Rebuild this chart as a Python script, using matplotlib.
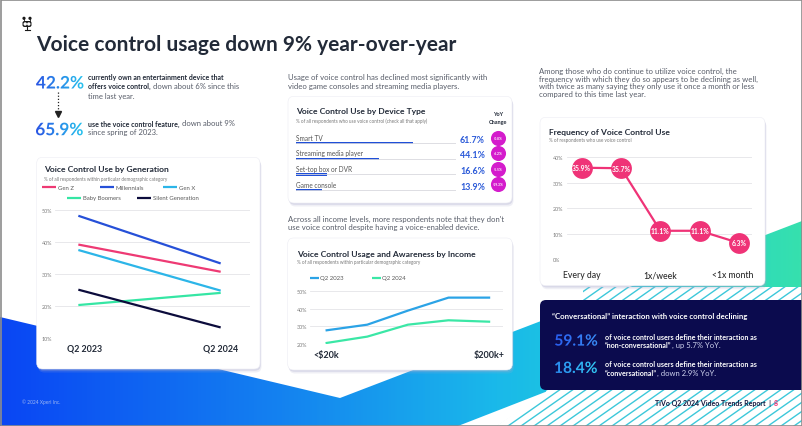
import numpy as np
import matplotlib
matplotlib.use('Agg')
import matplotlib.pyplot as plt
import matplotlib.transforms as mtransforms
from matplotlib.patches import FancyBboxPatch, Polygon, PathPatch, Circle, Rectangle
from matplotlib.colors import LinearSegmentedColormap
from matplotlib.textpath import TextPath
from matplotlib.font_manager import FontProperties

plt.rcParams['font.family'] = ['Lato', 'DejaVu Sans']

# ---- data ----
gen_periods = ['Q2 2023', 'Q2 2024']
gen_names = ['Gen Z', 'Millennials', 'Gen X', 'Baby Boomers', 'Silent Generation']
gen_z = [39.2, 30.7]
millennials = [48.2, 33.3]
gen_x = [37.5, 24.8]
baby_boomers = [20.3, 24.1]
silent_gen = [25.1, 13.3]

device_types = ['Smart TV', 'Streaming media player', 'Set-top box or DVR', 'Game console']
device_share = [61.7, 44.1, 16.6, 13.9]
device_yoy = ['-0.8%', '-6.2%', '-5.5%', '-19.3%']

income_ticks = ['<$20k', '$200k+']
income_2023 = [27.8, 31.0, 39.0, 46.4, 46.4]
income_2024 = [20.6, 24.2, 31.0, 33.5, 32.7]

freq_ticks = ['Every day', '1x/week', '<1x month']
freq_share = [35.9, 35.7, 11.1, 11.1, 6.3]

own_device = 42.2
use_voice = 65.9
non_conv = 59.1
conv = 18.4

# colours
DARK = '#222a38'
GREY = '#575c68'
PINK = '#ef3377'
C_GEN = ['#ee3a74', '#2650d8', '#2cb5e8', '#35e6a4', '#0c0c3c']
C_INC = ['#2ba3e6', '#3be7a6']

# font sizes
F_PARA = 5.6
F_CARD = 6.1
F_SUB = 3.3

W, H = 802, 427
fig = plt.figure(figsize=(W / 100, H / 100), dpi=100)
bg = fig.add_axes([0, 0, 1, 1])
bg.set_xlim(0, W)
bg.set_ylim(H, 0)
bg.set_autoscale_on(False)
bg.axis('off')
r = fig.canvas.get_renderer()


def px_axes(x0, y0, x1, y1):
    a = fig.add_axes([x0 / W, 1 - y1 / H, (x1 - x0) / W, (y1 - y0) / H])
    a.patch.set_alpha(0)
    for s in a.spines.values():
        s.set_visible(False)
    return a


def txt(x, y, s, size, color=GREY, weight='normal', ha='left', **kw):
    return bg.text(x, y, s, fontsize=size, color=color, fontweight=weight,
                   ha=ha, va='center', zorder=10, **kw)


def rich(x, y, parts):
    for s, w, c, size in parts:
        t = txt(x, y, s, size, c, w)
        x = t.get_window_extent(r).x1


def grad_text(x, y, s, size, c1, c2):
    tp = TextPath((0, 0), s, size=size * 100 / 72,
                  prop=FontProperties(family='Lato', weight='bold'))
    e = tp.get_extents()
    tr = mtransforms.Affine2D().scale(1, -1).translate(x - e.x0, y + (e.y0 + e.y1) / 2)
    patch = PathPatch(tp, transform=tr + bg.transData, fc='none', ec='none')
    bg.add_patch(patch)
    cmap = LinearSegmentedColormap.from_list('g', [c1, c2])
    im = bg.imshow(np.linspace(0, 1, 200).reshape(1, -1), cmap=cmap, aspect='auto',
                   extent=(x, x + e.width, y + e.height, y - e.height), zorder=10)
    im.set_clip_path(patch)


def card(x0, y0, x1, y1, rad=6):
    for dx, dy, a in [(1.5, 3.5, 0.18), (0.8, 1.8, 0.3)]:
        bg.add_patch(FancyBboxPatch((x0 + dx, y0 + dy), x1 - x0, y1 - y0,
                                    boxstyle=f'round,pad=0,rounding_size={rad}',
                                    fc='#a9a9cc', ec='none', alpha=a, zorder=3))
    bg.add_patch(FancyBboxPatch((x0, y0), x1 - x0, y1 - y0,
                                boxstyle=f'round,pad=0,rounding_size={rad}',
                                fc='white', ec='#ececf3', lw=0.4, zorder=4))


# ---- background shapes ----
band = Polygon([(0, 318), (340, 399), (802, 222), (802, 293), (458, 427), (0, 427)],
               closed=True, fc='none', ec='none')
bg.add_patch(band)
band_cmap = LinearSegmentedColormap.from_list('band', [(0, '#0a46f4'), (0.35, '#1482f0'),
                                                       (0.62, '#1ab9ea'), (0.8, '#1fcfd6'),
                                                       (1, '#36e0ae')])
im = bg.imshow(np.linspace(0, 1, 400).reshape(1, -1), cmap=band_cmap, aspect='auto',
               extent=(0, W, H, 0), zorder=1)
im.set_clip_path(band)

hatch = Polygon([(497, 427), (545, 395), (583, 301), (583, 288), (802, 288), (802, 427)],
                closed=True, fc='white', ec='none', zorder=1.5)
bg.add_patch(hatch)
for x0 in np.arange(300, 1200, 13):
    ln, = bg.plot([x0, x0 + 500], [427, 427 - 0.7 * 500], color='#3cc8da', lw=1.0, zorder=1.6)
    ln.set_clip_path(hatch)

bg.add_patch(Rectangle((0.5, 0.5), W - 1, H - 1, fill=False, ec='#8c8c8c', lw=1.2, zorder=30))

# ---- logo and title ----
for ax_ in (24, 30):
    bg.plot([ax_, ax_], [19.5, 22.5], color='#1a1a1a', lw=0.6, zorder=10)
    bg.add_patch(Circle((ax_, 19.3), 0.9, color='#1a1a1a', zorder=10))
bg.add_patch(FancyBboxPatch((22.5, 22), 9, 6, boxstyle='round,pad=0,rounding_size=2',
                            fc='#1a1a1a', ec='none', zorder=10))
for ex in (25.2, 28.8):
    bg.add_patch(Circle((ex, 25), 1.0, color='white', zorder=11))
bg.plot([27, 27], [28, 30.5], color='#1a1a1a', lw=0.8, zorder=10)
bg.plot([24.5, 29.5], [31, 31], color='#1a1a1a', lw=0.8, zorder=10)

txt(36, 45, 'Voice control usage down 9% year-over-year', 15, DARK, 'bold')

# ---- top-left stats ----
grad_text(36, 83.3, f'{own_device}%', 12.4, '#2a55e4', '#27c3ee')
grad_text(36, 130, f'{use_voice}%', 12.4, '#2a55e4', '#27c3ee')
fb, fr = 5.0, 5.5
txt(88.3, 77.3, 'currently own an entertainment device that', fb, DARK, 'bold')
rich(88.3, 86.7, [('offers voice control,', 'bold', DARK, fb),
                  (' down about 6% since this', 'normal', GREY, fr)])
txt(88.3, 96, 'time last year.', fr)
rich(88.3, 124, [('use the voice control feature,', 'bold', DARK, fb),
                 (' down about 9%', 'normal', GREY, fr)])
txt(88.3, 132.7, 'since spring of 2023.', fr)
bg.plot([57.7, 57.7], [93, 113], color='#222', lw=0.9, ls=(0, (1, 1.5)), zorder=10)
bg.plot([57.7], [114.5], marker='v', ms=4, color='#222', zorder=10)

# ---- generation card ----
card(36.7, 158.3, 260, 370)
txt(44.3, 169.3, 'Voice Control Use by Generation', F_CARD, DARK, 'bold')
txt(44.3, 179.3, '% of all respondents within particular demographic category', F_SUB, '#777')
leg = [(42.3, 188.3), (100, 188.3), (163.3, 188.3), (66.7, 199), (137.3, 199)]
for (lx, ly), name, c in zip(leg, gen_names, C_GEN):
    bg.plot([lx, lx + 14], [ly, ly], color=c, lw=1.6, zorder=10, solid_capstyle='butt')
    txt(lx + 16, ly, name, 4.3, '#5a5a5a')

ax1 = px_axes(55, 211, 250, 339)
for vals, c in zip([gen_z, millennials, gen_x, baby_boomers, silent_gen], C_GEN):
    ax1.plot([0, 1], vals, color=c, lw=1.6, solid_capstyle='butt')
ax1.set_xlim(-0.164, 1.206)
ax1.set_ylim(10, 50)
ax1.set_yticks([10, 20, 30, 40, 50], [f'{v}%' for v in [10, 20, 30, 40, 50]])
ax1.set_xticks([0.045, 1.0], gen_periods)
ax1.grid(axis='y', color='#e4e4e8', lw=0.6)
ax1.set_axisbelow(True)
ax1.tick_params(axis='y', length=0, labelsize=3.9, labelcolor='#7a7a7a', pad=2)
ax1.tick_params(axis='x', length=0, labelsize=6.4, labelcolor=DARK, pad=4.1)
for t in ax1.get_xticklabels():
    t.set_fontweight('bold')

# ---- device card ----
txt(288, 77.7, 'Usage of voice control has declined most significantly with', F_PARA)
txt(288, 86.7, 'video game consoles and streaming media players.', F_PARA)
card(288, 97.3, 512, 204)
txt(296, 111.7, 'Voice Control Use by Device Type', F_CARD, DARK, 'bold')
txt(296, 121, '% of all respondents who use voice control (check all that apply)', F_SUB, '#777')
txt(497.7, 115, 'YoY', 4.0, DARK, 'bold', ha='center')
txt(497.7, 122.7, 'Change', 4.0, DARK, 'bold', ha='center')

ax4 = px_axes(296, 136.5, 456, 198.7)
ax4.set_xlim(0, 84.7)
ax4.set_ylim(3.5, -0.5)
ax4.axis('off')
for i, (name, v, yoy) in enumerate(zip(device_types, device_share, device_yoy)):
    ax4.axhline(i, color='#d8d8de', lw=0.6)
    ax4.barh(i, v, height=0.15, color='#1f4fd8')
    ax4.text(0, i - 0.38, name, va='center', fontsize=4.7, color='#555')
    ax4.text(100.05, i - 0.25, f'{v}%', ha='right', va='center', fontsize=6.4,
             fontweight='bold', color='#2b5ad8', clip_on=False)
    ax4.scatter(106.8, i - 0.37, s=118, color='#d41ccc', clip_on=False, zorder=5, linewidths=0)
    ax4.text(106.8, i - 0.37, yoy, ha='center', va='center', fontsize=2.4,
             fontweight='bold', color='white', clip_on=False, zorder=6)

# ---- income card ----
txt(288.3, 219, "Across all income levels, more respondents note that they don't", F_PARA)
txt(288.3, 227.7, 'use voice control despite having a voice-enabled device.', F_PARA)
card(287.7, 239, 512.3, 371)
txt(296.7, 254.3, 'Voice Control Usage and Awareness by Income', F_CARD, DARK, 'bold')
txt(296.7, 262.3, '% of all respondents within particular demographic category', F_SUB, '#777')
for lx, name, c in zip([310, 371.7], ['Q2 2023', 'Q2 2024'], C_INC):
    bg.plot([lx, lx + 9], [279, 279], color=c, lw=1.6, zorder=10, solid_capstyle='butt')
    txt(lx + 10.5, 279, name, 4.3, '#5a5a5a')

ax2 = px_axes(310, 292.3, 503.3, 345)
xi = np.arange(len(income_2023))
ax2.plot(xi, income_2023, color=C_INC[0], lw=1.6)
ax2.plot(xi, income_2024, color=C_INC[1], lw=1.6)
ax2.set_xlim(-0.41, 4.35)
ax2.set_ylim(20, 50)
ax2.set_yticks([20, 30, 40, 50], [f'{v}%' for v in [20, 30, 40, 50]])
ax2.set_xticks([0, 4], income_ticks)
ax2.grid(axis='y', color='#e4e4e8', lw=0.6)
ax2.set_axisbelow(True)
ax2.tick_params(axis='y', length=0, labelsize=3.9, labelcolor='#7a7a7a', pad=2)
ax2.tick_params(axis='x', length=0, labelsize=6.5, labelcolor=DARK, pad=4.5)
for t in ax2.get_xticklabels():
    t.set_fontweight('bold')

# ---- frequency card ----
para = ['Among those who do continue to utilize voice control, the',
        'frequency with which they do so appears to be declining as well,',
        'with twice as many saying they only use it once a month or less',
        'compared to this time last year.']
for k, line in enumerate(para):
    txt(539.3, 71 + 8 * k, line, F_PARA)
card(540, 118.3, 765, 286.7)
txt(549, 132.7, 'Frequency of Voice Control Use', F_CARD, DARK, 'bold')
txt(549, 141, '% of respondents who use voice control', F_SUB, '#777')

ax3 = px_axes(566.7, 158.3, 751.7, 260)
xf = np.arange(len(freq_share))
ax3.plot(xf, freq_share, color=PINK, lw=1.6, marker='o', ms=15, mfc=PINK, mec='none',
         clip_on=False, zorder=3)
for x_, v in zip(xf, freq_share):
    ax3.text(x_, v, f'{v}%', ha='center', va='center', fontsize=4.9, fontweight='bold',
             color='white', zorder=4, clip_on=False)
ax3.set_xlim(-0.38, 4.32)
ax3.set_ylim(0, 40)
ax3.set_yticks([0, 10, 20, 30, 40], [f'{v}%' for v in [0, 10, 20, 30, 40]])
ax3.set_xticks([0, 2, 3.83], freq_ticks)
ax3.grid(axis='y', color='#e4e4e8', lw=0.6)
ax3.set_axisbelow(True)
ax3.tick_params(axis='y', length=0, labelsize=3.9, labelcolor='#7a7a7a', pad=10)
ax3.tick_params(axis='x', length=0, labelsize=6.2, labelcolor='#2a2a2a', pad=8)
for t in ax3.get_yticklabels():
    t.set_horizontalalignment('left')
for t in ax3.get_xticklabels():
    t.set_fontweight('medium')

# ---- navy box ----
bg.add_patch(FancyBboxPatch((540, 301), 280, 90, boxstyle='round,pad=0,rounding_size=6',
                            fc='#0b0b4e', ec='none', zorder=5))
txt(552.3, 316.7, '\u201cConversational\u201d interaction with voice control declining', 5.6,
    'white', 'bold')
grad_text(555, 341, f'{non_conv}%', 11.2, '#2a5ff0', '#3a8ef8')
grad_text(555, 368.3, f'{conv}%', 11.2, '#2a8cf0', '#33c8f4')
fn = 5.1
txt(605, 337.7, 'of voice control users define their interaction as', fn, 'white', 'bold')
rich(605, 345.7, [('\u201cnon-conversational\u201d', 'bold', 'white', fn),
                  (', up 5.7% YoY.', 'normal', '#cfd3ee', fn + 0.4)])
txt(605, 365, 'of voice control users define their interaction as', fn, 'white', 'bold')
rich(605, 373.3, [('\u201cconversational\u201d', 'bold', 'white', fn),
                  (', down 2.9% YoY.', 'normal', '#cfd3ee', fn + 0.4)])

# ---- footer ----
txt(21.5, 402, '\u00a9 2024 Xperi Inc.', 3.5, '#9db6f2')
txt(771, 404, 'TiVo Q2 2024 Video Trends Report  |', 5.0, '#141a40', 'bold', ha='right')
txt(773.5, 404, '8', 5.0, PINK, 'bold')

fig.savefig('out.png', dpi=100)
